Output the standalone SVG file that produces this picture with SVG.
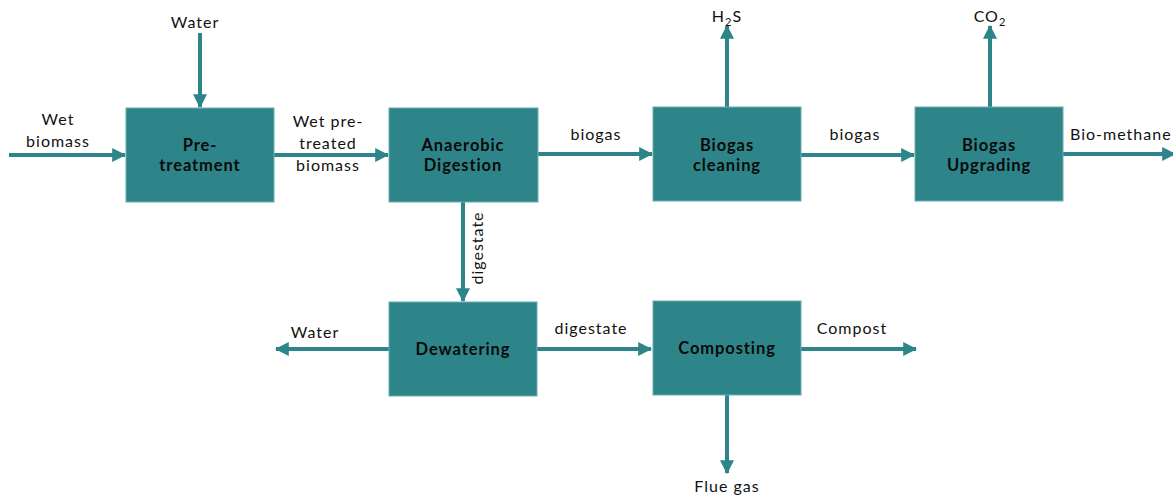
<svg xmlns="http://www.w3.org/2000/svg" width="1173" height="497" viewBox="0 0 1173 497">
<style>
.box{fill:#2e8589;stroke:#6aaeb1;stroke-width:1}
.bl{font-family:Lato,"Liberation Sans",sans-serif;font-weight:bold;font-size:16.5px;fill:#0a0a0a;text-anchor:middle;letter-spacing:0.9px}
.lb{font-family:Lato,"Liberation Sans",sans-serif;font-size:16px;fill:#111;text-anchor:middle;letter-spacing:1px}
.ln{stroke:#2e8589;stroke-width:4;fill:none}
</style>
<defs>
<marker id="ah" viewBox="0 0 12 12" refX="11" refY="6" markerWidth="3.5" markerHeight="3.5" markerUnits="strokeWidth" orient="auto">
<path d="M0,0 L12,6 L0,12 Z" fill="#2e8589"/>
</marker>
</defs>
<rect width="1173" height="497" fill="#fff"/>
<g id="connectors">
<line class="ln" x1="9" y1="155" x2="125" y2="155" marker-end="url(#ah)"/>
<line class="ln" x1="200" y1="33" x2="200" y2="107" marker-end="url(#ah)"/>
<line class="ln" x1="274" y1="155" x2="388" y2="155" marker-end="url(#ah)"/>
<line class="ln" x1="538" y1="154" x2="652" y2="154" marker-end="url(#ah)"/>
<line class="ln" x1="727" y1="107" x2="727" y2="26" marker-end="url(#ah)"/>
<line class="ln" x1="801" y1="155" x2="914" y2="155" marker-end="url(#ah)"/>
<line class="ln" x1="990" y1="107" x2="990" y2="26" marker-end="url(#ah)"/>
<line class="ln" x1="1063" y1="154" x2="1175" y2="154" marker-end="url(#ah)"/>
<line class="ln" x1="463" y1="202" x2="463" y2="301" marker-end="url(#ah)"/>
<line class="ln" x1="389" y1="349" x2="276" y2="349" marker-end="url(#ah)"/>
<line class="ln" x1="537" y1="349" x2="651" y2="349" marker-end="url(#ah)"/>
<line class="ln" x1="801" y1="349" x2="916" y2="349" marker-end="url(#ah)"/>
<line class="ln" x1="727" y1="395" x2="727" y2="473" marker-end="url(#ah)"/>
</g>
<g id="pretreatment">
<rect class="box" x="126" y="108" width="148" height="94"/>
<text class="bl" x="200" y="151">Pre-</text>
<text class="bl" x="200" y="171">treatment</text>
</g>
<g id="digestion">
<rect class="box" x="389" y="108" width="149" height="94"/>
<text class="bl" x="463" y="151">Anaerobic</text>
<text class="bl" x="463" y="171">Digestion</text>
</g>
<g id="cleaning">
<rect class="box" x="653" y="107" width="148" height="94"/>
<text class="bl" x="727" y="151">Biogas</text>
<text class="bl" x="727" y="171">cleaning</text>
</g>
<g id="upgrading">
<rect class="box" x="915" y="107" width="148" height="94"/>
<text class="bl" x="989" y="151">Biogas</text>
<text class="bl" x="989" y="171">Upgrading</text>
</g>
<g id="dewatering">
<rect class="box" x="389" y="302" width="148" height="94"/>
<text class="bl" x="463" y="355">Dewatering</text>
</g>
<g id="composting">
<rect class="box" x="653" y="301" width="148" height="94"/>
<text class="bl" x="727" y="354">Composting</text>
</g>
<g id="labels">
<text class="lb" x="195" y="28">Water</text>
<text class="lb" x="58" y="125">Wet</text>
<text class="lb" x="58" y="147">biomass</text>
<text class="lb" x="328" y="127">Wet pre-</text>
<text class="lb" x="328" y="149">treated</text>
<text class="lb" x="328" y="171">biomass</text>
<text class="lb" x="596" y="140">biogas</text>
<text class="lb" x="727" y="22">H<tspan font-size="11" dy="4">2</tspan><tspan dy="-4">S</tspan></text>
<text class="lb" x="855" y="140">biogas</text>
<text class="lb" x="990" y="22">CO<tspan font-size="11" dy="4">2</tspan></text>
<text class="lb" x="1070" y="140" style="text-anchor:start">Bio-methane</text>
<text class="lb" transform="translate(483,248) rotate(-90)">digestate</text>
<text class="lb" x="315" y="338">Water</text>
<text class="lb" x="591" y="334">digestate</text>
<text class="lb" x="852" y="334">Compost</text>
<text class="lb" x="727" y="492">Flue gas</text>
</g>
</svg>
